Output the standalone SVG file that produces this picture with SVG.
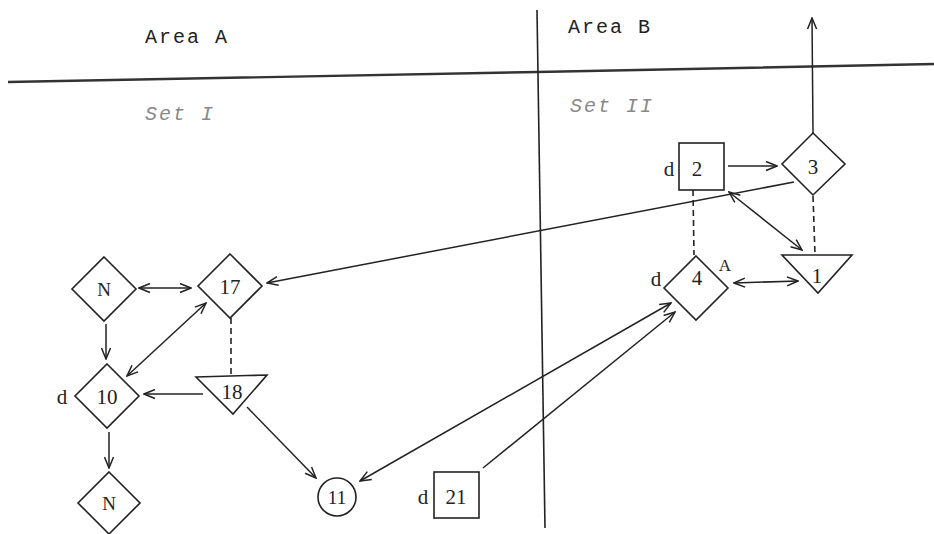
<svg xmlns="http://www.w3.org/2000/svg" width="934" height="534" viewBox="0 0 934 534">
  <style>
    .shape { fill: none; stroke: #222; stroke-width: 1.6; }
    .edge { fill: none; stroke: #222; stroke-width: 1.5; }
    .dash { fill: none; stroke: #222; stroke-width: 1.6; stroke-dasharray: 6 4; }
    .lbl { font-family: "Liberation Serif", "DejaVu Serif", serif; font-size: 21px; fill: #222; text-anchor: middle; }
    .area { font-family: "Liberation Mono", "DejaVu Sans Mono", monospace; font-size: 20px; fill: #222; }
    .set { font-family: "Liberation Mono", "DejaVu Sans Mono", monospace; font-size: 20px; font-style: italic; fill: #888; }
  </style>
  <defs>
    <marker id="arrow" viewBox="0 0 13 11" refX="12" refY="5.5" markerWidth="13" markerHeight="11" markerUnits="userSpaceOnUse" orient="auto-start-reverse">
      <path d="M1,1 L12,5.5 L1,10" fill="none" stroke="#222" stroke-width="1.5"/>
    </marker>
  </defs>
  <rect width="934" height="534" fill="#fff"/>

  <!-- area boundaries -->
  <g id="boundaries">
    <path d="M8,82 L537,72 L934,64" fill="none" stroke="#333" stroke-width="2.4"/>
    <path d="M537,10 L545,528" fill="none" stroke="#222" stroke-width="1.6"/>
  </g>

  <!-- area and set captions -->
  <g id="captions">
    <text class="area" x="145" y="43" letter-spacing="2">Area A</text>
    <text class="area" x="568" y="33" letter-spacing="2">Area B</text>
    <text class="set" x="145" y="120" letter-spacing="2">Set I</text>
    <text class="set" x="570" y="112" letter-spacing="2">Set II</text>
  </g>

  <!-- connectors -->
  <g id="connectors">
    <path class="edge" d="M813,133 L812,18" marker-end="url(#arrow)"/>
    <path class="edge" d="M728,166 L777,166" marker-end="url(#arrow)"/>
    <path class="dash" d="M693,190 L694,255"/>
    <path class="dash" d="M813,196 L815,255"/>
    <path class="edge" d="M729,192 L802,250" marker-start="url(#arrow)" marker-end="url(#arrow)"/>
    <path class="edge" d="M734,283 L798,281" marker-start="url(#arrow)" marker-end="url(#arrow)"/>
    <path class="edge" d="M794,182 L267,283" marker-end="url(#arrow)"/>
    <path class="edge" d="M139,288 L191,288" marker-start="url(#arrow)" marker-end="url(#arrow)"/>
    <path class="edge" d="M106,324 L106,359" marker-end="url(#arrow)"/>
    <path class="edge" d="M127,376 L206,303" marker-start="url(#arrow)" marker-end="url(#arrow)"/>
    <path class="dash" d="M231,318 L231,376"/>
    <path class="edge" d="M203,394 L144,394" marker-end="url(#arrow)"/>
    <path class="edge" d="M109,432 L109,468" marker-end="url(#arrow)"/>
    <path class="edge" d="M247,407 L316,478" marker-end="url(#arrow)"/>
    <path class="edge" d="M360,481 L671,303" marker-start="url(#arrow)" marker-end="url(#arrow)"/>
    <path class="edge" d="M483,468 L675,312" marker-end="url(#arrow)"/>
  </g>

  <!-- Set II nodes -->
  <g id="node-2">
    <rect class="shape" x="679" y="143" width="45" height="47"/>
    <text class="lbl" x="697" y="176">2</text>
    <text class="lbl" x="669" y="176">d</text>
  </g>
  <g id="node-3">
    <polygon class="shape" points="813,133 845,164 813,195 782,164"/>
    <text class="lbl" x="813" y="174">3</text>
  </g>
  <g id="node-4">
    <polygon class="shape" points="696,256 728,288 696,320 664,288"/>
    <text class="lbl" x="697" y="285">4</text>
    <text class="lbl" x="656" y="286">d</text>
    <text class="lbl" x="725" y="271" style="font-size:17px">A</text>
  </g>
  <g id="node-1">
    <polygon class="shape" points="782,255 852,255 818,293"/>
    <text class="lbl" x="817" y="283">1</text>
  </g>
  <g id="node-21">
    <rect class="shape" x="434" y="472" width="45" height="46"/>
    <text class="lbl" x="456" y="504">21</text>
    <text class="lbl" x="423" y="504">d</text>
  </g>

  <!-- Set I nodes -->
  <g id="node-N-top">
    <polygon class="shape" points="104,257 136,289 104,321 72,289"/>
    <text class="lbl" x="104" y="296" style="font-size:19px">N</text>
  </g>
  <g id="node-17">
    <polygon class="shape" points="230,254 262,286 230,318 198,286"/>
    <text class="lbl" x="230" y="294">17</text>
  </g>
  <g id="node-10">
    <polygon class="shape" points="107,364 139,396 107,428 75,396"/>
    <text class="lbl" x="107" y="404">10</text>
    <text class="lbl" x="62" y="404">d</text>
  </g>
  <g id="node-18">
    <polygon class="shape" points="196,377 267,375 233,414"/>
    <text class="lbl" x="232" y="399">18</text>
  </g>
  <g id="node-N-bottom">
    <polygon class="shape" points="109,472 140,503 109,534 78,503"/>
    <text class="lbl" x="109" y="510" style="font-size:19px">N</text>
  </g>
  <g id="node-11">
    <circle class="shape" cx="337" cy="497" r="19"/>
    <text class="lbl" x="337" y="504" style="font-size:19px">11</text>
  </g>
</svg>
